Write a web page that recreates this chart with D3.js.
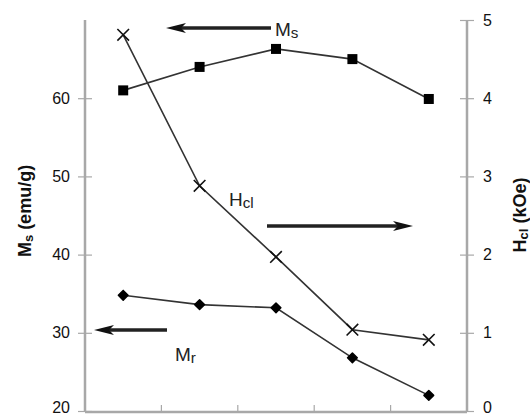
<!DOCTYPE html>
<html>
<head>
<meta charset="utf-8">
<script src="https://cdn.jsdelivr.net/npm/d3@7/dist/d3.min.js"></script>
<style>
  html, body { margin: 0; padding: 0; background: #fff; }
  svg { display: block; }
  text { font-family: "Liberation Sans", Arial, sans-serif; }
</style>
</head>
<body>
<svg id="chart" width="530" height="418"></svg>
<script>
// Sample sequence (x positions are unlabeled categories)
const samples = ["1", "2", "3", "4", "5"];
// Saturation magnetisation Ms (emu/g), left axis
const msValues = [61.0, 64.0, 66.3, 65.0, 59.9];
// Remanent magnetisation Mr (emu/g), left axis
const mrValues = [34.8, 33.6, 33.2, 26.8, 22.0];
// Coercivity Hcl (kOe), right axis
const hclValues = [4.81, 2.88, 1.97, 1.04, 0.91];
// Tick labels
const leftTicks = [20, 30, 40, 50, 60];
const rightTicks = [0, 1, 2, 3, 4, 5];

const svg = d3.select("#chart");
const plot = { left: 85, right: 467, top: 20, bottom: 412 };

const x = d3.scaleBand().domain(samples).range([plot.left, plot.right]);
const yL = d3.scaleLinear().domain([20, 70]).range([plot.bottom - 1, plot.top]);
const yR = d3.scaleLinear().domain([0, 5]).range([plot.bottom - 1, plot.top]);
const cx = d => x(d) + x.bandwidth() / 2;

const axisColor = "#a8a8a8";
const ink = "#111";

// Axis lines
const axes = svg.append("g").attr("stroke", axisColor).attr("stroke-width", 2.5).attr("fill", "none");
axes.append("line").attr("x1", plot.left).attr("x2", plot.left).attr("y1", plot.top).attr("y2", plot.bottom);
axes.append("line").attr("x1", plot.right).attr("x2", plot.right).attr("y1", plot.top).attr("y2", plot.bottom);
axes.append("line").attr("x1", plot.left).attr("x2", plot.right).attr("y1", plot.bottom).attr("y2", plot.bottom);

// Left axis ticks and labels
const gl = svg.append("g")
  .attr("transform", `translate(${plot.left},0)`)
  .call(d3.axisLeft(yL).tickValues(leftTicks).tickFormat(d3.format("d")).tickSizeInner(7).tickSizeOuter(0).tickPadding(8));
gl.select(".domain").remove();
gl.selectAll(".tick line").attr("stroke", axisColor).attr("x2", 7).attr("x1", -7).attr("stroke-width", 1.2);
gl.selectAll(".tick text").attr("font-size", 16).attr("fill", ink)
  .attr("font-family", "Liberation Sans, Arial, sans-serif").attr("x", -15)
  .attr("dy", d => d === 20 ? "0.12em" : "0.32em");

// Right axis ticks and labels
const gr = svg.append("g")
  .attr("transform", `translate(${plot.right},0)`)
  .call(d3.axisRight(yR).tickValues(rightTicks).tickFormat(d3.format("d")).tickSizeInner(7).tickSizeOuter(0).tickPadding(8));
gr.select(".domain").remove();
gr.selectAll(".tick line").attr("stroke", axisColor).attr("x1", -7).attr("x2", 7).attr("stroke-width", 1.2);
gr.selectAll(".tick text").attr("font-size", 16).attr("fill", ink)
  .attr("font-family", "Liberation Sans, Arial, sans-serif").attr("x", 16)
  .attr("dy", d => d === 0 ? "0.12em" : "0.32em");

// Bottom axis: category boundary ticks, no labels
const boundaries = samples.slice(1).map(d => x(d));
svg.append("g").selectAll("line").data(boundaries).join("line")
  .attr("x1", d => d).attr("x2", d => d)
  .attr("y1", plot.bottom - 7).attr("y2", plot.bottom)
  .attr("stroke", axisColor).attr("stroke-width", 1.2);

// Series lines
const lineL = vals => d3.line().x((d, i) => cx(samples[i])).y(d => yL(d))(vals);
const lineR = vals => d3.line().x((d, i) => cx(samples[i])).y(d => yR(d))(vals);

svg.append("path").attr("d", lineL(msValues)).attr("fill", "none").attr("stroke", "#333").attr("stroke-width", 1.6);
svg.append("path").attr("d", lineL(mrValues)).attr("fill", "none").attr("stroke", "#333").attr("stroke-width", 1.6);
svg.append("path").attr("d", lineR(hclValues)).attr("fill", "none").attr("stroke", "#333").attr("stroke-width", 1.6);

// Ms markers: squares
svg.append("g").selectAll("rect").data(msValues).join("rect")
  .attr("x", (d, i) => cx(samples[i]) - 5).attr("y", d => yL(d) - 5)
  .attr("width", 10).attr("height", 10).attr("fill", "#000");

// Mr markers: small rounded diamonds
svg.append("g").selectAll("path").data(mrValues).join("path")
  .attr("d", d3.symbol().type(d3.symbolDiamond2).size(60))
  .attr("transform", (d, i) => `translate(${cx(samples[i])},${yL(d)})`)
  .attr("fill", "#000").attr("stroke", "#000").attr("stroke-width", 1.5).attr("stroke-linejoin", "round");

// Hcl markers: crosses
svg.append("g").selectAll("path").data(hclValues).join("path")
  .attr("d", d3.symbol().type(d3.symbolX).size(90))
  .attr("transform", (d, i) => `translate(${cx(samples[i])},${yR(d)})`)
  .attr("fill", "none").attr("stroke", "#111").attr("stroke-width", 1.6);

// Annotation arrows
function arrow(x1, x2, y) {
  const dir = Math.sign(x2 - x1);
  const headLen = 20, headHalf = 5;
  svg.append("line").attr("x1", x1).attr("x2", x2 - dir * headLen * 0.7).attr("y1", y).attr("y2", y)
    .attr("stroke", "#222").attr("stroke-width", 3.5);
  svg.append("path")
    .attr("d", `M${x2},${y} L${x2 - dir * headLen},${y - headHalf} L${x2 - dir * headLen * 0.75},${y} L${x2 - dir * headLen},${y + headHalf} Z`)
    .attr("fill", "#111");
}
arrow(271, 166, 28);
arrow(267, 413, 226);
arrow(167, 94, 330);

// Annotation labels
function label(xp, yp, main, sub, size) {
  const t = svg.append("text").attr("x", xp).attr("y", yp).attr("font-size", size).attr("fill", "#222");
  t.append("tspan").text(main);
  t.append("tspan").attr("font-size", size * 0.8).attr("dy", 2).text(sub);
}
label(275, 36, "M", "s", 19);
label(229, 206, "H", "cl", 19);
label(175, 361, "M", "r", 19);

// Axis titles
const tl = svg.append("text").attr("transform", "translate(31,211) rotate(-90)")
  .attr("text-anchor", "middle").attr("font-size", 18).attr("font-weight", "bold").attr("fill", "#111");
tl.append("tspan").text("M");
tl.append("tspan").attr("font-size", 13).attr("dy", 2).text("s");
tl.append("tspan").attr("dy", -2).text(" (emu/g)");

const tr = svg.append("text").attr("transform", "translate(526,215) rotate(-90)")
  .attr("text-anchor", "middle").attr("font-size", 18).attr("font-weight", "bold").attr("fill", "#111");
tr.append("tspan").text("H");
tr.append("tspan").attr("font-size", 13).attr("dy", 2).text("cl");
tr.append("tspan").attr("dy", -2).text(" (kOe)");
</script>
</body>
</html>
